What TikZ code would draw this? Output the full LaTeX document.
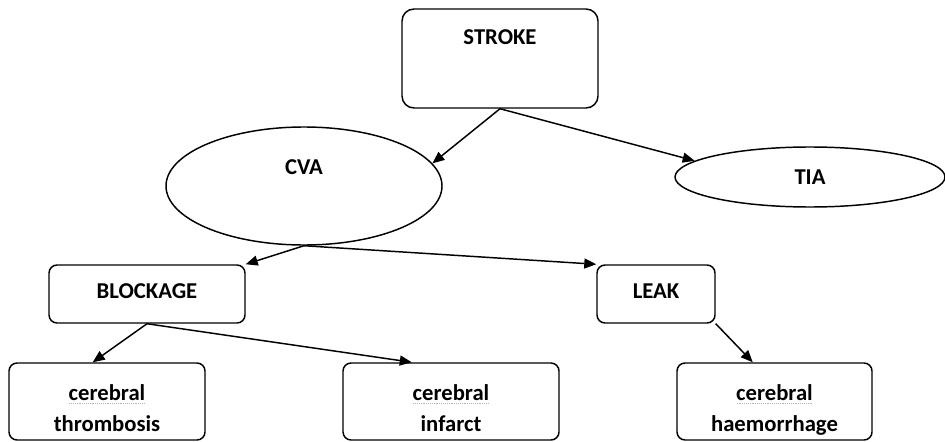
\documentclass[tikz,border=0pt]{standalone}
\usepackage{fontspec}
\setmainfont{Carlito}
\usetikzlibrary{shapes.geometric,arrows.meta}

\newsavebox\spellbox
\newcommand\spellword[1]{\sbox\spellbox{#1}%
  \rlap{\raisebox{-3pt}{\textcolor{gray!60}{\hbox to\wd\spellbox{\xleaders\hbox to 1.4pt{\hss\rule{0.7pt}{0.6pt}\hss}\hfill}}}}%
  \usebox\spellbox}

\begin{document}
\begin{tikzpicture}[x=0.75pt,y=-0.75pt,>={Triangle[length=9pt,width=7.5pt]},
  font=\fontsize{17}{23.25}\selectfont\bfseries,
  box/.style={draw,line width=1.1pt,rounded corners=6pt,inner sep=0pt,align=center},
  oval/.style={draw,ellipse,line width=1.1pt,inner sep=0pt},
  link/.style={->,line width=1.1pt}]
  \clip (0,0) rectangle (945,442);
  \fill[white] (0,0) rectangle (945,442);

  \node (stroke) [box,rounded corners=9pt,minimum width=147pt,text height=27pt,text depth=47.25pt] at (500,58.5) {STROKE};

  \node (cva) [oval,minimum width=207pt,minimum height=88.5pt,text height=12pt,text depth=28.5pt] at (304,186) {CVA};
  \node (tia) [oval,minimum width=202.5pt,minimum height=45pt] at (810,177) {TIA};

  \node (blockage) [box,minimum width=147pt,text height=24.75pt,text depth=18.75pt] at (147,294) {BLOCKAGE};
  \node (leak) [box,minimum width=88.5pt,text height=24.75pt,text depth=18.75pt] at (656,294) {LEAK};

  \node (thromb) [box,minimum width=147pt,text height=51pt,text depth=6.75pt] at (107,401.5) {\spellword{cerebral}\\thrombosis};
  \node (infarct) [box,minimum width=162pt,text height=51pt,text depth=6.75pt] at (451,401.5) {\spellword{cerebral}\\infarct};
  \node (haem) [box,minimum width=146.25pt,text height=51pt,text depth=6.75pt] at (774.5,401.5) {\spellword{cerebral}\\haemorrhage};

  % arrows
  \draw[link] (stroke.south) -- (cva.10);
  \draw[link] (stroke.south) -- (tia.172);
  \draw[link] (cva.south) -- (blockage.north east);
  \draw[link] (cva.south) -- (leak.north west);
  \draw[link] (blockage.south) -- (thromb.110);
  \draw[link] (blockage.south) -- (infarct.135);
  \draw[link] (leak.south east) -- (haem.119);
\end{tikzpicture}
\end{document}
